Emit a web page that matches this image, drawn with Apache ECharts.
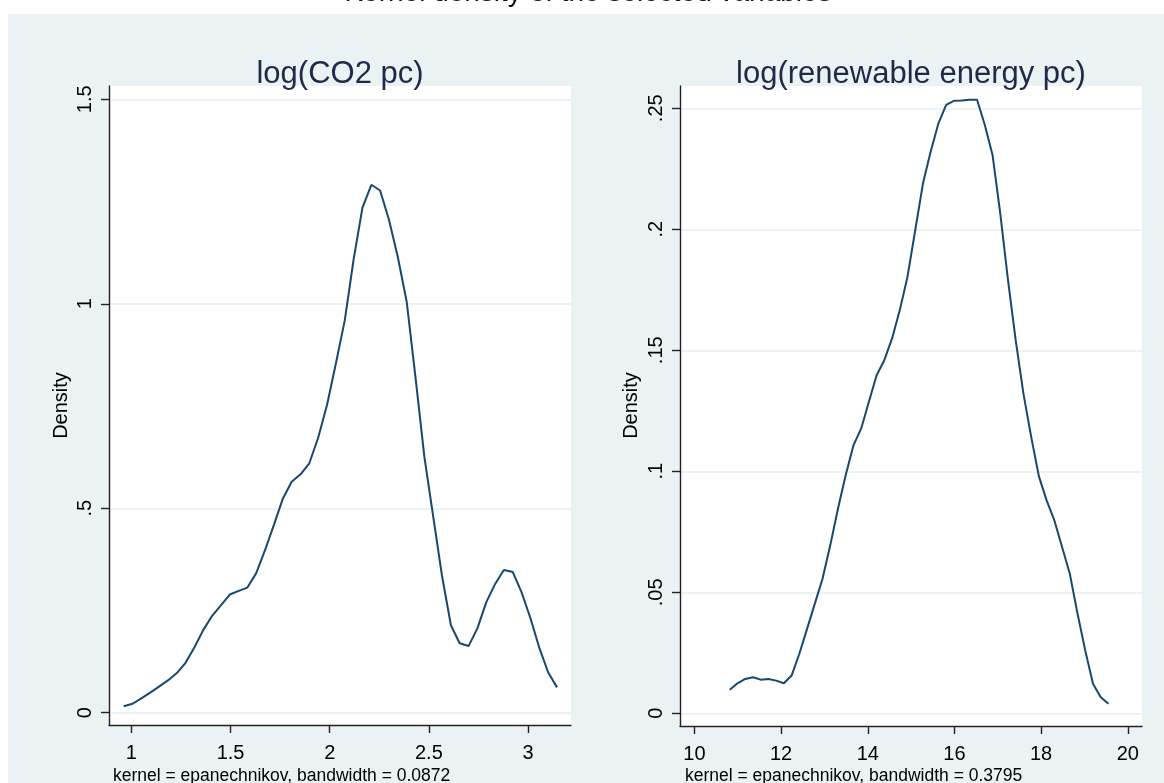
<!DOCTYPE html>
<html><head><meta charset="utf-8">
<script src="https://cdn.jsdelivr.net/npm/echarts@6/dist/echarts.min.js"></script>
<style>html,body{margin:0;padding:0;background:#fff}#c{width:1164px;height:783px}</style>
</head><body><div id="c"></div>
<script>
const mainTitle = 'Kernel density of the selected variables';
const co2Title = 'log(CO2 pc)';
const renTitle = 'log(renewable energy pc)';
const yName = 'Density';
const co2Note = 'kernel = epanechnikov, bandwidth = 0.0872';
const renNote = 'kernel = epanechnikov, bandwidth = 0.3795';

const co2X = [0.961,1.006,1.050,1.095,1.139,1.184,1.229,1.273,1.318,1.362,1.407,1.452,1.496,1.541,1.585,1.630,1.674,1.719,1.764,1.808,1.853,1.897,1.942,1.986,2.031,2.076,2.120,2.165,2.210,2.254,2.299,2.343,2.388,2.432,2.477,2.522,2.566,2.611,2.655,2.700,2.745,2.789,2.834,2.878,2.923,2.967,3.012,3.056,3.101,3.146];
const co2Y = [0.016,0.022,0.035,0.049,0.064,0.079,0.097,0.122,0.160,0.202,0.237,0.263,0.289,0.298,0.306,0.342,0.398,0.460,0.524,0.565,0.583,0.610,0.673,0.752,0.854,0.960,1.107,1.235,1.291,1.277,1.205,1.115,1.005,0.822,0.626,0.479,0.335,0.214,0.170,0.163,0.207,0.270,0.315,0.349,0.344,0.295,0.231,0.160,0.099,0.062];

const renX = [10.816,10.994,11.173,11.351,11.529,11.708,11.886,12.064,12.242,12.421,12.599,12.777,12.956,13.134,13.312,13.491,13.669,13.847,14.026,14.204,14.382,14.561,14.739,14.917,15.096,15.274,15.452,15.631,15.809,15.987,16.166,16.344,16.522,16.701,16.879,17.057,17.236,17.414,17.592,17.771,17.949,18.127,18.306,18.484,18.662,18.841,19.019,19.197,19.376,19.554];
const renY = [0.0097,0.0124,0.0142,0.0149,0.0139,0.0142,0.0135,0.0124,0.0156,0.0246,0.0349,0.0452,0.0556,0.0694,0.0845,0.0985,0.1107,0.1176,0.1287,0.1397,0.1459,0.1549,0.1666,0.1804,0.1997,0.2190,0.2321,0.2438,0.2514,0.2531,0.2532,0.2535,0.2535,0.2431,0.2307,0.2066,0.1790,0.1541,0.1321,0.1142,0.0979,0.0880,0.0797,0.0687,0.0577,0.0411,0.0259,0.0122,0.0066,0.0039];

const co2XTicks = [1,1.5,2,2.5,3];
const co2YTicks = [0,0.5,1,1.5];
const renXTicks = [10,12,14,16,18,20];
const renYTicks = [0,0.05,0.1,0.15,0.2,0.25];

const FONT = '"Liberation Sans", Arial, sans-serif';
const PANEL = '#eaf2f3';
const NAVY = '#1a476f';
const TITLE_C = '#1e2a48';

function stataFmt(v){ return v === 0 ? '0' : String(+v.toFixed(4)).replace(/^0\./,'.'); }

function mkX(idx, min, max, ticks){
  return {
    type:'value', gridIndex:idx, min:min, max:max,
    axisLine:{show:true,onZero:false,lineStyle:{color:'#222',width:1.4}},
    axisTick:{show:true,length:8,inside:false,customValues:ticks,lineStyle:{color:'#222',width:1.4}},
    axisLabel:{show:true,customValues:ticks,margin:18,fontSize:20,fontFamily:FONT,color:'#000',formatter:v=>stataFmt(v)},
    splitLine:{show:false}
  };
}
function mkY(idx, min, max, ticks){
  return {
    type:'value', gridIndex:idx, min:min, max:max,
    axisLine:{show:true,onZero:false,lineStyle:{color:'#222',width:1.4}},
    axisTick:{show:true,length:8,inside:false,customValues:ticks,lineStyle:{color:'#222',width:1.4}},
    axisLabel:{show:true,customValues:ticks,rotate:90,margin:14,fontSize:20,fontFamily:FONT,color:'#000',formatter:v=>stataFmt(v)},
    splitLine:{show:true,lineStyle:{color:'#e6eff1',width:1.6}}
  };
}

const chart = echarts.init(document.getElementById('c'), null, {renderer:'canvas'});
chart.setOption({
  backgroundColor: PANEL,
  animation:false,
  graphic:[
    {type:'rect',shape:{x:0,y:0,width:1164,height:14},style:{fill:'#fff'},z:-10,silent:true},
    {type:'rect',shape:{x:0,y:0,width:8,height:783},style:{fill:'#fff'},z:-10,silent:true},
    {type:'text',x:588,y:-7,style:{text:mainTitle,font:'28px '+FONT,fill:'#111',align:'center',verticalAlign:'middle'},z:-5},
    {type:'text',x:340,y:74.3,style:{text:co2Title,font:'31px '+FONT,fill:TITLE_C,align:'center',verticalAlign:'middle'}},
    {type:'text',x:911,y:74.3,style:{text:renTitle,font:'31px '+FONT,fill:TITLE_C,align:'center',verticalAlign:'middle'}},
    {type:'text',x:61,y:405.5,rotation:Math.PI/2,style:{text:yName,font:'20px '+FONT,fill:'#000',align:'center',verticalAlign:'middle'}},
    {type:'text',x:631,y:405.5,rotation:Math.PI/2,style:{text:yName,font:'20px '+FONT,fill:'#000',align:'center',verticalAlign:'middle'}},
    {type:'text',x:113,y:776,style:{text:co2Note,font:'17.5px '+FONT,fill:'#000',align:'left',verticalAlign:'middle'}},
    {type:'text',x:685,y:776,style:{text:renNote,font:'17.5px '+FONT,fill:'#000',align:'left',verticalAlign:'middle'}}
  ],
  grid:[
    {left:109,top:86,width:462,height:639,show:true,backgroundColor:'#fff',borderWidth:0,containLabel:false},
    {left:680,top:86,width:462,height:640,show:true,backgroundColor:'#fff',borderWidth:0,containLabel:false}
  ],
  xAxis:[ mkX(0,0.887,3.2165,co2XTicks), mkX(1,9.667,20.328,renXTicks) ],
  yAxis:[ mkY(0,-0.030,1.5325,co2YTicks), mkY(1,-0.00525,0.2592,renYTicks) ],
  series:[
    {type:'line',xAxisIndex:0,yAxisIndex:0,data:co2X.map((x,i)=>[x,co2Y[i]]),showSymbol:false,symbol:'none',smooth:false,lineStyle:{color:NAVY,width:2},silent:true},
    {type:'line',xAxisIndex:1,yAxisIndex:1,data:renX.map((x,i)=>[x,renY[i]]),showSymbol:false,symbol:'none',smooth:false,lineStyle:{color:NAVY,width:2},silent:true}
  ]
});
</script></body></html>
